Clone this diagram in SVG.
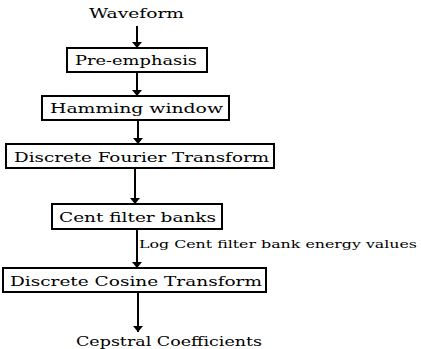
<svg xmlns="http://www.w3.org/2000/svg" width="421" height="349" viewBox="0 0 421 349">
<defs>
<marker id="ah" markerWidth="6" markerHeight="10" refX="6" refY="5" orient="auto" markerUnits="userSpaceOnUse"><path d="M0,0 L6,5 L0,10 Z" fill="#000"/></marker>
<style>
text{font-family:"DejaVu Serif",serif;font-size:12.5px;fill:#000}
.s{font-size:11px}
.b{fill:#fff;stroke:#000;stroke-width:2}
.c{stroke:#000;stroke-width:2;fill:none}
</style>
</defs>
<rect width="421" height="349" fill="#fff"/>
<g id="connectors">
<line class="c" x1="137" y1="26" x2="137" y2="48" marker-end="url(#ah)"/>
<line class="c" x1="137" y1="72" x2="137" y2="96" marker-end="url(#ah)"/>
<line class="c" x1="138" y1="120" x2="138" y2="144" marker-end="url(#ah)"/>
<line class="c" x1="135" y1="168" x2="135" y2="204" marker-end="url(#ah)"/>
<line class="c" x1="137" y1="229" x2="137" y2="268" marker-end="url(#ah)"/>
<line class="c" x1="138" y1="292" x2="138" y2="332" marker-end="url(#ah)"/>
<text class="s" x="139" y="248" textLength="278" lengthAdjust="spacingAndGlyphs">Log Cent filter bank energy values</text>
</g>
<g id="waveform"><text x="136.5" y="18" text-anchor="middle" textLength="95" lengthAdjust="spacingAndGlyphs">Waveform</text></g>
<g id="pre"><rect class="b" x="67" y="48" width="140" height="24"/><text x="136" y="65" text-anchor="middle" textLength="122" lengthAdjust="spacingAndGlyphs">Pre-emphasis</text></g>
<g id="hamming"><rect class="b" x="42" y="96" width="187" height="24"/><text x="136.5" y="113" text-anchor="middle" textLength="173" lengthAdjust="spacingAndGlyphs">Hamming window</text></g>
<g id="dft"><rect class="b" x="6" y="144" width="268" height="24"/><text x="141.5" y="162" text-anchor="middle" textLength="255" lengthAdjust="spacingAndGlyphs">Discrete Fourier Transform</text></g>
<g id="cent"><rect class="b" x="52" y="204" width="170" height="25"/><text x="137.5" y="222" text-anchor="middle" textLength="157" lengthAdjust="spacingAndGlyphs">Cent filter banks</text></g>
<g id="dct"><rect class="b" x="3" y="268" width="263" height="24"/><text x="136" y="286" text-anchor="middle" textLength="252" lengthAdjust="spacingAndGlyphs">Discrete Cosine Transform</text></g>
<g id="cepstral"><text x="169" y="346" text-anchor="middle" textLength="186" lengthAdjust="spacingAndGlyphs">Cepstral Coefficients</text></g>
</svg>
